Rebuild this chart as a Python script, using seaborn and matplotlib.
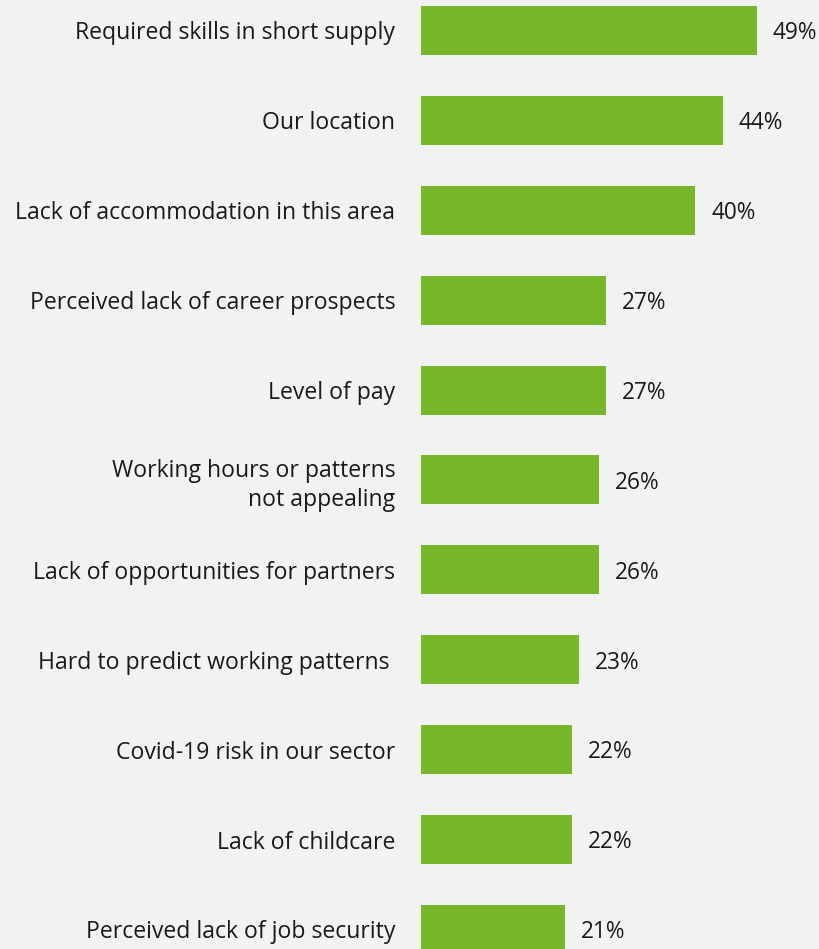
import matplotlib
matplotlib.use("Agg")
import matplotlib.pyplot as plt
import seaborn as sns
import pandas as pd

categories = [
    "Required skills in short supply",
    "Our location",
    "Lack of accommodation in this area",
    "Perceived lack of career prospects",
    "Level of pay",
    "Working hours or patterns\nnot appealing",
    "Lack of opportunities for partners",
    "Hard to predict working patterns ",
    "Covid-19 risk in our sector",
    "Lack of childcare",
    "Perceived lack of job security",
]
values = [49, 44, 40, 27, 27, 26, 26, 23, 22, 22, 21]

bg = "#f2f2f2"
green = "#76b82a"
text_color = "#1a1a1a"
fs = 16.6

sns.set_theme(style="white")
plt.rcParams["font.family"] = ["Open Sans", "DejaVu Sans"]

df = pd.DataFrame({"reason": categories, "share": values})

fig = plt.figure(figsize=(8.2, 9.49), dpi=100, facecolor=bg)
ax = fig.add_axes([421 / 820, 0, 399 / 820, 1])
ax.set_facecolor(bg)

sns.barplot(data=df, x="share", y="reason", orient="h", color=green,
            saturation=1, width=0.545, linewidth=0, ax=ax)

for i, v in enumerate(values):
    ax.annotate(f"{v}%", xy=(v, i), xytext=(11.5, -2), textcoords="offset points",
                va="center", ha="left", fontsize=fs - 0.3, color=text_color)

ax.set_xlim(0, 399 / 6.857)
ax.set_ylim(10.217, -0.339)
ax.set_xlabel("")
ax.set_ylabel("")
ax.set_xticks([])
ax.tick_params(axis="y", length=0, pad=18.5, labelsize=fs, labelcolor=text_color)
for lbl in ax.get_yticklabels():
    lbl.set_horizontalalignment("right")
    lbl.set_multialignment("right")
    lbl.set_linespacing(1.3)
for s in ax.spines.values():
    s.set_visible(False)

fig.savefig("out.png", dpi=100, facecolor=bg)
